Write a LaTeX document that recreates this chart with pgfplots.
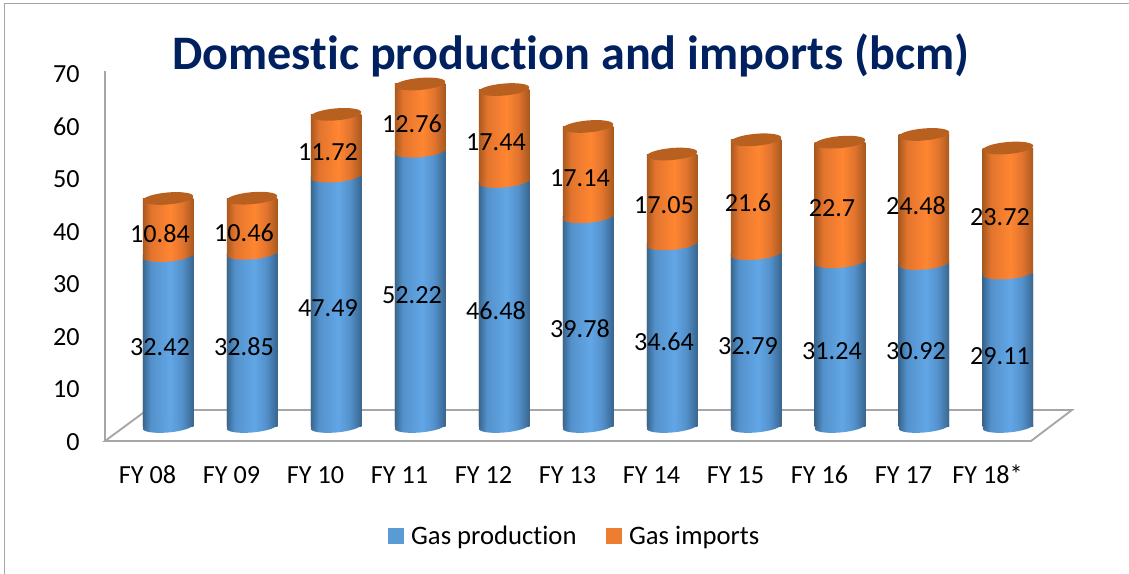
\documentclass[border=0pt]{standalone}
\usepackage{pgfplots}
\usepackage{pgfplotstable}
\usepackage{fontspec}
\pgfplotsset{compat=1.18}
\setmainfont{Carlito}[Ligatures={NoCommon,NoRare}]
\definecolor{axgrey}{HTML}{A6A6A6}
\definecolor{navy}{HTML}{002060}
\definecolor{legB}{HTML}{5B9BD5}
\definecolor{legO}{HTML}{ED7D31}
\definecolor{capO}{HTML}{B8601F}
\definecolor{bEdge}{HTML}{38668F}
\definecolor{bMid}{HTML}{5391CB}
\definecolor{bTop}{HTML}{62A6E6}
\definecolor{oEdge}{HTML}{A9591F}
\definecolor{oMid}{HTML}{E2742D}
\definecolor{oTop}{HTML}{FF8632}
\pgfdeclarehorizontalshading{cylB}{100bp}{color(0bp)=(bEdge); color(25bp)=(bEdge); color(33bp)=(bMid); color(52bp)=(bTop); color(64bp)=(bMid); color(75bp)=(bEdge); color(100bp)=(bEdge)}
\pgfdeclarehorizontalshading{cylO}{100bp}{color(0bp)=(oEdge); color(25bp)=(oEdge); color(33bp)=(oMid); color(52bp)=(oTop); color(64bp)=(oMid); color(75bp)=(oEdge); color(100bp)=(oEdge)}
\newcommand{\ellpath}{\pgfpathellipse{\pgfpointorigin}{\pgfqpoint{18.93pt}{1.66pt}}{\pgfqpoint{-0.39pt}{4.48pt}}}
\pgfdeclareplotmark{ellB}{\ellpath\pgfshadepath{cylB}{0}\pgfusepath{discard}}
\pgfdeclareplotmark{ellO}{\ellpath\pgfshadepath{cylO}{0}\pgfusepath{discard}}
\pgfdeclareplotmark{ellC}{\ellpath\pgfsetfillcolor{capO}\pgfusepath{fill}}
\pgfplotstableread{
i prod imp
0 32.42 10.84
1 32.85 10.46
2 47.49 11.72
3 52.22 12.76
4 46.48 17.44
5 39.78 17.14
6 34.64 17.05
7 32.79 21.6
8 31.24 22.7
9 30.92 24.48
10 29.11 23.72
}\gasdata
\newcommand{\lab}{\fontsize{19.6}{23}\selectfont}
\begin{document}
\begin{tikzpicture}
\path[use as bounding box] (0,0) rectangle (846.75pt,430.5pt);
\begin{scope}[x=0.75pt,y=0.75pt]
\draw[axgrey,line width=0.8pt] (1129,570.5) -- (4.5,570.5) -- (4.5,0);
\end{scope}
\begin{axis}[
  at={(78.75pt,99.75pt)}, anchor=south west,
  scale only axis, width=694.5pt, height=277.5pt,
  xmin=-0.506, xmax=10.518, ymin=0, ymax=70.5,
  axis x line*=bottom, axis y line*=left,
  axis line style={axgrey,line width=1.5pt,-},
  major tick length=0pt,
  xtick={0,1,2,3,4,5,6,7,8,9,10},
  xticklabels={FY 08,FY 09,FY 10,FY 11,FY 12,FY 13,FY 14,FY 15,FY 16,FY 17,FY 18*},
  ytick={0,10,20,30,40,50,60,70},
  /pgf/number format/assume math mode=true,
  tick label style={font=\lab,inner sep=0pt,text=black},
  xticklabel style={anchor=base,yshift=-32pt},
  yticklabel style={anchor=east,xshift=-18.75pt,yshift=-0.5pt},
  title={\fontsize{36.1}{42}\selectfont\bfseries Domestic production and imports (bcm)},
  every axis title shift=0pt,
  title style={at={(0.503,1.003)},anchor=base,text=navy,inner sep=0pt},
  clip=false,
]
\draw[axgrey,line width=1.4pt] (rel axis cs:0,0) -- (rel axis cs:1,0)
  -- ++(30.75pt,23.25pt) -- ++(-693.75pt,0pt) -- cycle;
\end{axis}
\begin{axis}[
  at={(94.125pt,110.625pt)}, anchor=south west,
  scale only axis, width=694.5pt, height=276.75pt,
  xmin=-0.506, xmax=10.518, ymin=0, ymax=70,
  hide axis, clip=false,
  legend style={at={(0.4854,-0.2967)},anchor=center,draw=none,fill=none,
    legend columns=2,font=\fontsize{20}{24}\selectfont,inner sep=0pt,
    /tikz/every odd column/.append style={column sep=4pt},
    /tikz/every even column/.append style={column sep=20pt}},
  legend image code/.code={\fill[#1] (0pt,-5.5pt) rectangle (11pt,5.5pt);},
  point meta=explicit symbolic,
]
\addlegendimage{legB}\addlegendentry{Gas production}
\addlegendimage{legO}\addlegendentry{Gas imports}
% bottom of the cylinders
\addplot[forget plot,only marks,mark=ellB] table[x=i,y expr=0] {\gasdata};
% orange from zero to the total, blue from zero to production; one plot per bar so that each is shaded alone
\pgfplotsinvokeforeach{0,...,10}{
\addplot[forget plot,ybar,bar shift=0pt,bar width=37.875pt,draw=none,shade,shading=cylO,restrict x to domain=#1:#1]
  table[x=i,y expr=\thisrow{prod}+\thisrow{imp}] {\gasdata};
}
\pgfplotsinvokeforeach{0,...,10}{
\addplot[forget plot,ybar,bar shift=0pt,bar width=37.875pt,draw=none,shade,shading=cylB,restrict x to domain=#1:#1]
  table[x=i,y=prod] {\gasdata};
}
\addplot[forget plot,only marks,mark=ellO] table[x=i,y=prod] {\gasdata};
\addplot[forget plot,only marks,mark=ellC] table[x=i,y expr=\thisrow{prod}+\thisrow{imp}] {\gasdata};
% data labels
\addplot[forget plot,draw=none,mark=none,nodes near coords,
  nodes near coords style={anchor=center,font=\lab,text=black,inner sep=0pt,xshift=-6pt,yshift=-4.9pt}]
  table[x=i,y expr=\thisrow{prod}/2,meta=prod] {\gasdata};
\addplot[forget plot,draw=none,mark=none,nodes near coords,
  nodes near coords style={anchor=center,font=\lab,text=black,inner sep=0pt,xshift=-6pt,yshift=-4.9pt}]
  table[x=i,y expr=\thisrow{prod}+\thisrow{imp}/2,meta=imp] {\gasdata};
\end{axis}
\end{tikzpicture}
\end{document}
